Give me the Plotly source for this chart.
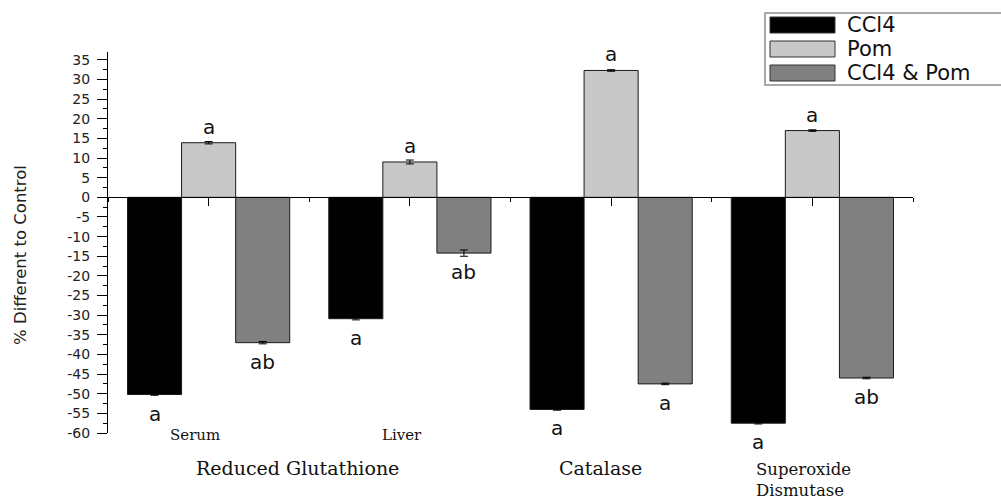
import plotly.graph_objects as go

# ---- data -------------------------------------------------------------
groups = [1, 2, 3, 4]
sub_labels = ["Serum", "Liver"]
assay_labels = ["Reduced Glutathione", "Catalase", "Superoxide<br>Dismutase"]

series_names = ["CCl4", "Pom", "CCl4 & Pom"]
ccl4 = [-50.2, -30.9, -54.0, -57.5]
pom = [13.9, 9.0, 32.3, 17.0]
ccl4_pom = [-37.0, -14.2, -47.5, -46.0]
ccl4_err = [0.2, 0.3, 0.2, 0.2]
pom_err = [0.3, 0.5, 0.2, 0.2]
ccl4_pom_err = [0.3, 0.8, 0.2, 0.2]

ccl4_sig = ["a", "a", "a", "a"]
pom_sig = ["a", "a", "a", "a"]
ccl4_pom_sig = ["ab", "ab", "a", "ab"]

y_ticks = list(range(-60, 40, 5))
y_tick_text = [str(v) for v in y_ticks]

# ---- styling ----------------------------------------------------------
colors = ["#000000", "#c8c8c8", "#808080"]
outline = "#1a1a1a"
SANS = "DejaVu Sans"
SERIF = "DejaVu Serif"

W, H = 1001, 502
ML, MR, MT, MB = 108, 88, 52, 69
Y_MIN, Y_MAX = -60, 37
BARGAP = 0.194


def px_x(p):
    return (p - ML) / (W - ML - MR)


def px_y(p):
    return (H - MB - p) / (H - MT - MB)


values = [ccl4, pom, ccl4_pom]
errors = [ccl4_err, pom_err, ccl4_pom_err]
sigs = [ccl4_sig, pom_sig, ccl4_pom_sig]

fig = go.Figure()
for name, vals, errs, col in zip(series_names, values, errors, colors):
    fig.add_trace(go.Bar(
        x=groups, y=vals, name=name,
        marker=dict(color=col, line=dict(color=outline, width=1)),
        error_y=dict(type="data", array=errs, color="#000000",
                     thickness=1, width=4),
        showlegend=False,
    ))

# significance letters at the end of each bar
bar_w = (1 - BARGAP) / 3
annotations = []
for i, (vals, letters) in enumerate(zip(values, sigs)):
    off = (i - 1) * bar_w
    for g, v, t in zip(groups, vals, letters):
        annotations.append(dict(
            x=g + off, y=v, xref="x", yref="y", text=t, showarrow=False,
            font=dict(family=SANS, size=20, color="#111"),
            xanchor="center", yanchor="middle",
            yshift=16 if v > 0 else -19,
        ))


def paper_text(px, py, text, size, family, anchor="center", vanchor="middle"):
    return dict(x=px_x(px), y=px_y(py), xref="paper", yref="paper",
                text=text, showarrow=False, xanchor=anchor,
                yanchor=vanchor, align="left",
                font=dict(family=family, size=size, color="#111"))


# category labels under the chart
annotations += [
    paper_text(195, 435, sub_labels[0], 15, SERIF),
    paper_text(402, 435, sub_labels[1], 15, SERIF),
    paper_text(297, 468, assay_labels[0], 19, SERIF),
    paper_text(600, 468, assay_labels[1], 19, SERIF),
    paper_text(754, 502, assay_labels[2], 16.5, SERIF, "left", "bottom"),
]

# y-axis title
annotations.append(dict(
    x=px_x(20), y=px_y(255), xref="paper", yref="paper",
    text="% Different to Control", textangle=-90, showarrow=False,
    xanchor="center", yanchor="middle",
    font=dict(family=SANS, size=16.5, color="#222"),
))

# legend box drawn with shapes
shapes = [dict(type="rect", xref="paper", yref="paper",
               x0=px_x(765), x1=px_x(1010), y0=px_y(85), y1=px_y(13),
               line=dict(color="#8c8c8c", width=1.5), fillcolor="white",
               layer="above")]
rows = [25, 49, 73]
for name, col, ry in zip(series_names, colors, rows):
    shapes.append(dict(type="rect", xref="paper", yref="paper",
                       x0=px_x(770), x1=px_x(835),
                       y0=px_y(ry + 8), y1=px_y(ry - 8),
                       line=dict(color="#333", width=1), fillcolor=col,
                       layer="above"))
    annotations.append(paper_text(845, ry, name, 21, SANS, "left"))

fig.update_layout(
    width=W, height=H,
    margin=dict(l=ML, r=MR, t=MT, b=MB, autoexpand=False),
    paper_bgcolor="white", plot_bgcolor="white",
    barmode="group", bargap=BARGAP, bargroupgap=0,
    showlegend=False,
    annotations=annotations, shapes=shapes,
    xaxis=dict(
        range=[0.5, 4.5], anchor="free",
        position=(0 - Y_MIN) / (Y_MAX - Y_MIN),
        showline=True, linecolor="#000", linewidth=1.2,
        showgrid=False, zeroline=False,
        tickmode="array", tickvals=groups, showticklabels=False,
        ticks="outside", ticklen=8, tickwidth=1.2, tickcolor="#000",
        minor=dict(tickmode="array", tickvals=[0.5, 1.5, 2.5, 3.5, 4.5],
                   ticks="outside", ticklen=4, tickwidth=1.2,
                   tickcolor="#000"),
    ),
    yaxis=dict(
        range=[Y_MIN, Y_MAX],
        showline=True, linecolor="#000", linewidth=1.2,
        showgrid=False, zeroline=False,
        tickmode="array", tickvals=y_ticks, ticktext=y_tick_text,
        ticks="outside", ticklen=10, tickwidth=1.2, tickcolor="#000",
        ticklabelstandoff=4,
        tickfont=dict(family=SANS, size=14, color="#222"),
        minor=dict(dtick=2.5, tick0=0, ticks="outside", ticklen=4,
                   tickwidth=1, tickcolor="#000"),
    ),
)

fig.write_html("out.html")
